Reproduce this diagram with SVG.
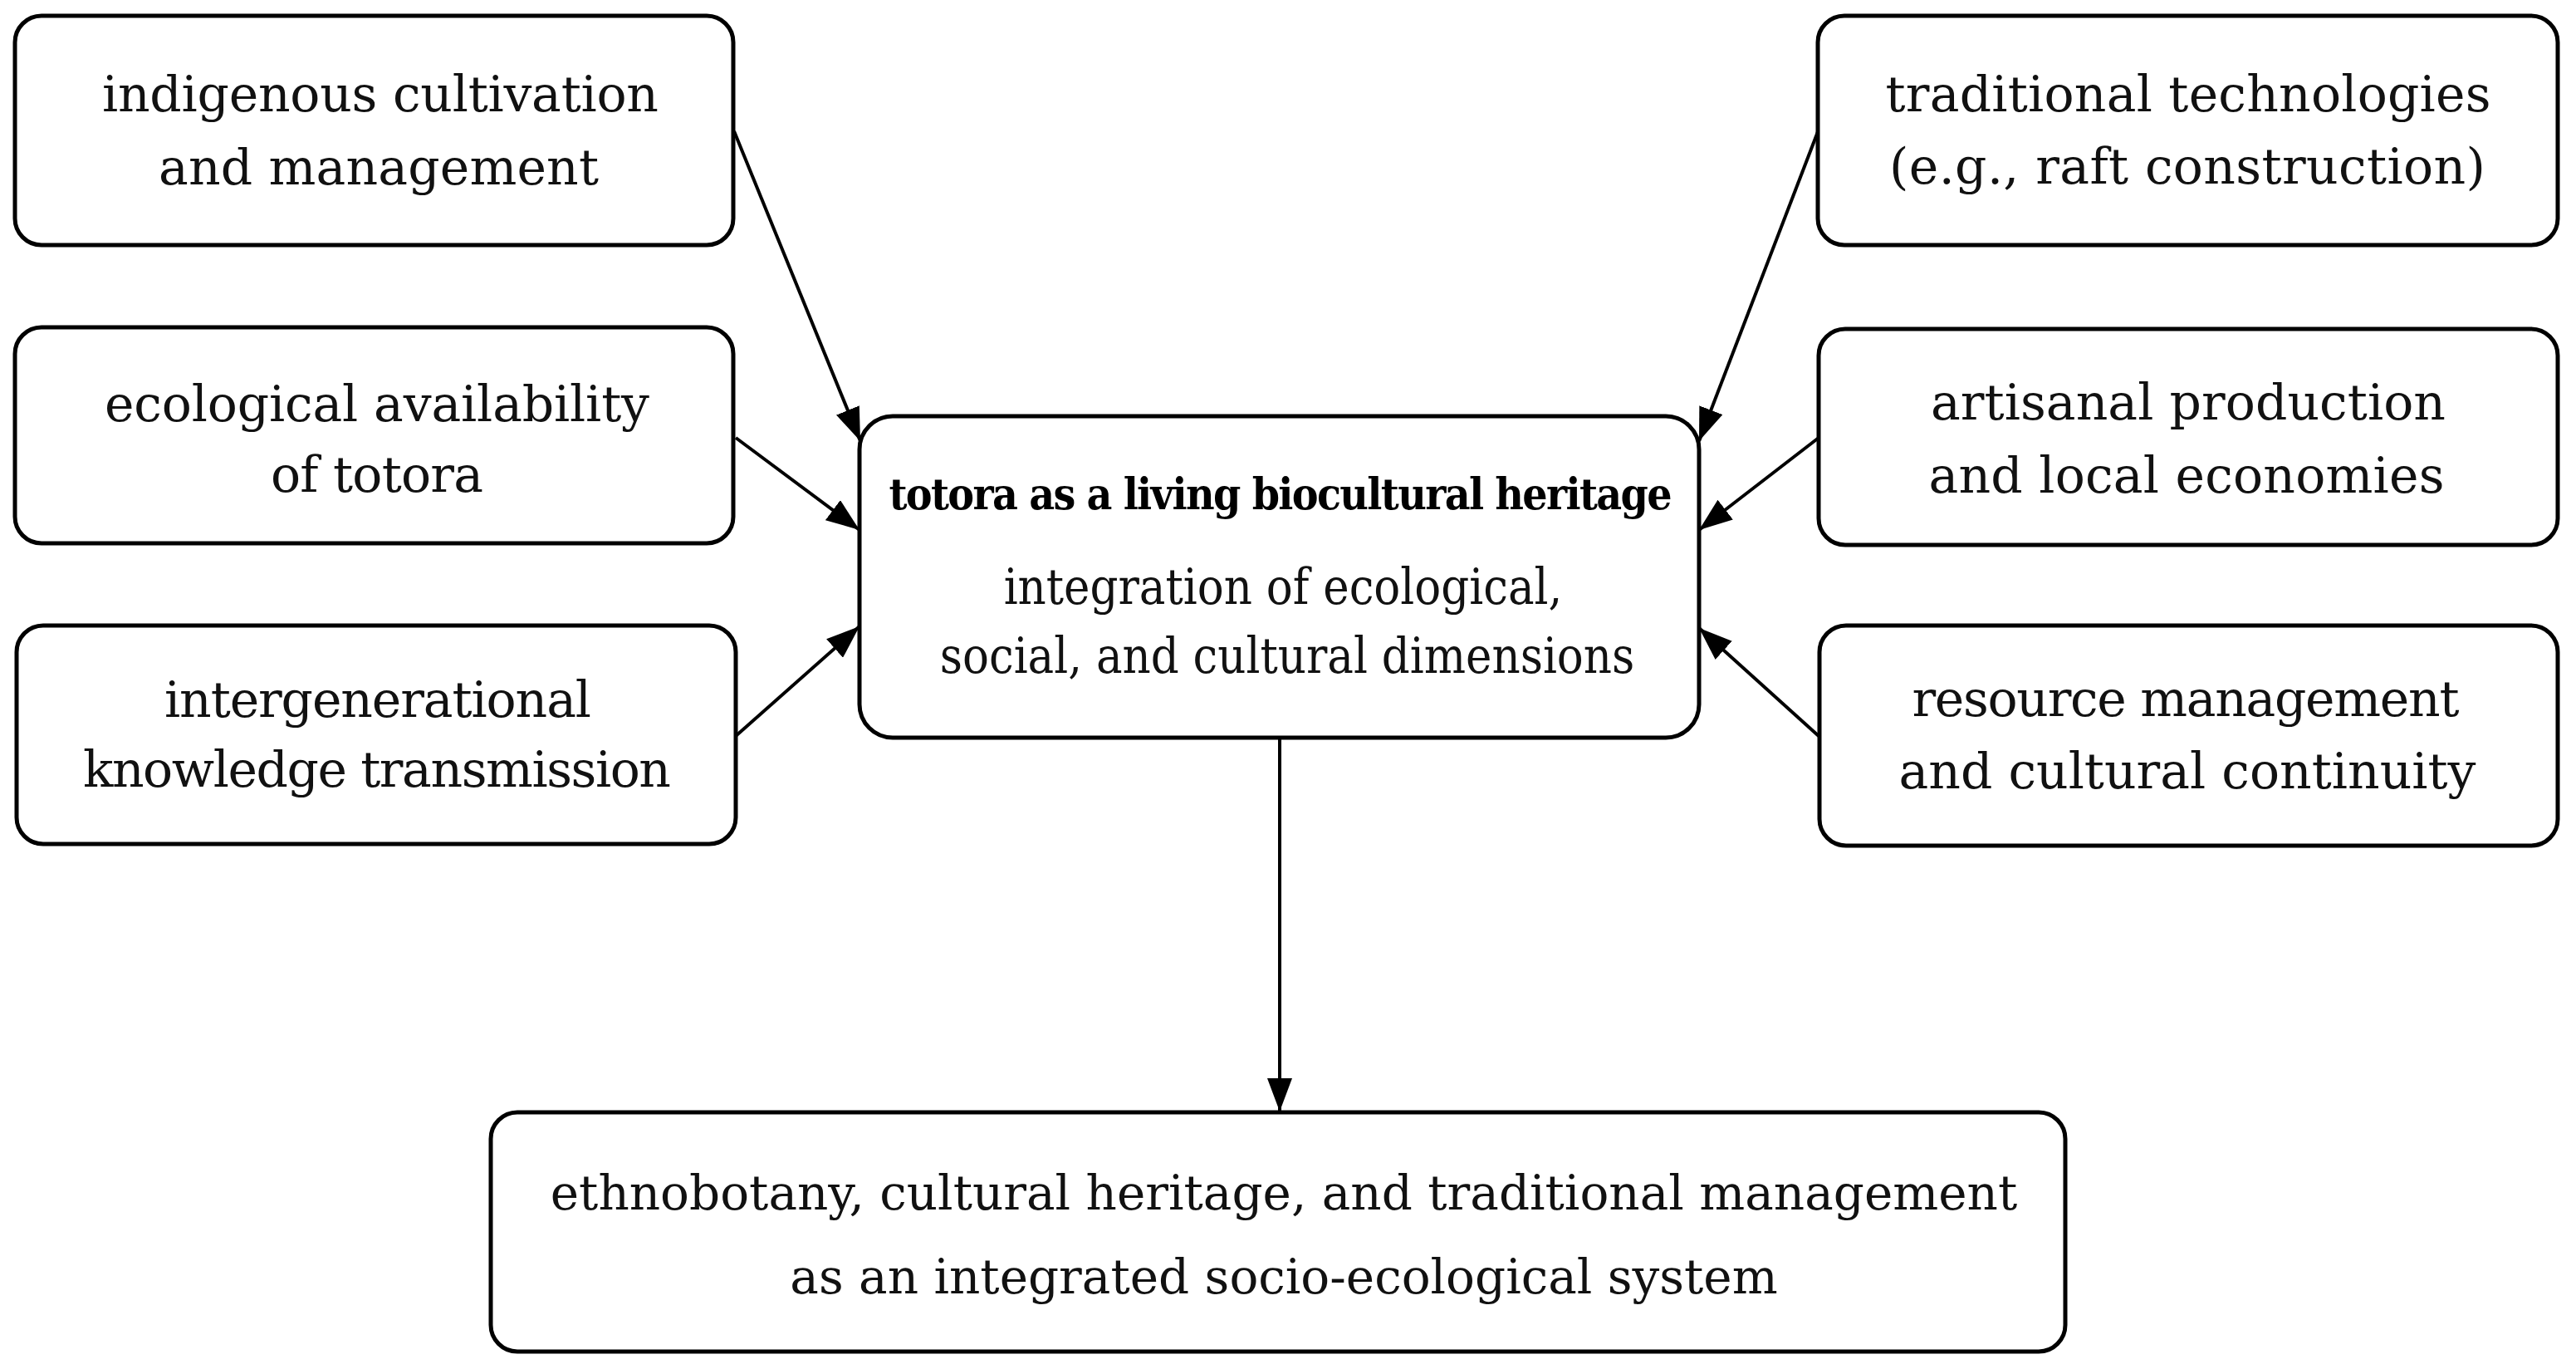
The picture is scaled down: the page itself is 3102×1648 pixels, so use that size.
<svg xmlns="http://www.w3.org/2000/svg" width="3102" height="1648" viewBox="0 0 3102 1648">
<style>
.box{fill:#fff;stroke:#000;stroke-width:5}
.t{font-family:"DejaVu Serif","Liberation Serif",serif;font-size:60px;fill:#111;text-anchor:middle}
.c{font-family:"DejaVu Serif Condensed","DejaVu Serif","Liberation Serif",serif;font-stretch:condensed;font-size:59px}
.m{font-size:58px}
.b{font-family:"DejaVu Serif Condensed","DejaVu Serif","Liberation Serif",serif;font-stretch:condensed;font-weight:bold;font-size:53px;fill:#000;text-anchor:middle}
.e{fill:none;stroke:#000;stroke-width:4;marker-end:url(#ah)}
</style>
<defs>
<marker id="ah" markerUnits="userSpaceOnUse" viewBox="0 0 40 30" markerWidth="40" markerHeight="30" refX="40" refY="15" orient="auto">
<path d="M0,0 L40,15 L0,30 z" fill="#000"/>
</marker>
</defs>
<rect width="3102" height="1648" fill="#fff"/>
<g id="connectors">
<line class="e" x1="884" y1="158" x2="1036" y2="531"/>
<line class="e" x1="886" y1="527" x2="1035" y2="638"/>
<line class="e" x1="886" y1="886" x2="1035" y2="754"/>
<line class="e" x1="2190" y1="156" x2="2046" y2="531"/>
<line class="e" x1="2190" y1="527" x2="2046" y2="638"/>
<line class="e" x1="2190" y1="886" x2="2046" y2="756"/>
<line class="e" x1="1541" y1="888" x2="1541" y2="1338"/>
</g>
<g id="n-indigenous">
<rect class="box" x="18" y="19" width="865" height="276" rx="32"/>
<text class="t" x="458" y="134" textLength="670">indigenous cultivation</text>
<text class="t" x="456" y="222" textLength="530">and management</text>
</g>
<g id="n-ecological">
<rect class="box" x="18" y="394" width="865" height="260" rx="32"/>
<text class="t" x="454" y="507" textLength="656">ecological availability</text>
<text class="t" x="454" y="592" textLength="256">of totora</text>
</g>
<g id="n-intergenerational">
<rect class="box" x="20" y="753" width="866" height="263" rx="32"/>
<text class="t" x="455" y="863" textLength="514">intergenerational</text>
<text class="t" x="454" y="947" textLength="708">knowledge transmission</text>
</g>
<g id="n-traditional">
<rect class="box" x="2189" y="19" width="891" height="276" rx="32"/>
<text class="t" x="2635" y="134" textLength="729">traditional technologies</text>
<text class="t" x="2634" y="221" textLength="718">(e.g., raft construction)</text>
</g>
<g id="n-artisanal">
<rect class="box" x="2190" y="396" width="890" height="260" rx="32"/>
<text class="t" x="2635" y="505" textLength="620">artisanal production</text>
<text class="t" x="2633" y="593" textLength="621">and local economies</text>
</g>
<g id="n-resource">
<rect class="box" x="2191" y="753" width="889" height="265" rx="32"/>
<text class="t" x="2632" y="862" textLength="659">resource management</text>
<text class="t" x="2634" y="949" textLength="695">and cultural continuity</text>
</g>
<g id="n-center">
<rect class="box" x="1035" y="501" width="1011" height="387" rx="40"/>
<text class="b" x="1542" y="613" textLength="943">totora as a living biocultural heritage</text>
<text class="t c" x="1545" y="727">integration of ecological,</text>
<text class="t c" x="1550" y="810">social, and cultural dimensions</text>
</g>
<g id="n-bottom">
<rect class="box" x="591" y="1339" width="1896" height="288" rx="32"/>
<text class="t m" x="1546" y="1456">ethnobotany, cultural heritage, and traditional management</text>
<text class="t m" x="1546" y="1557">as an integrated socio-ecological system</text>
</g>
</svg>
